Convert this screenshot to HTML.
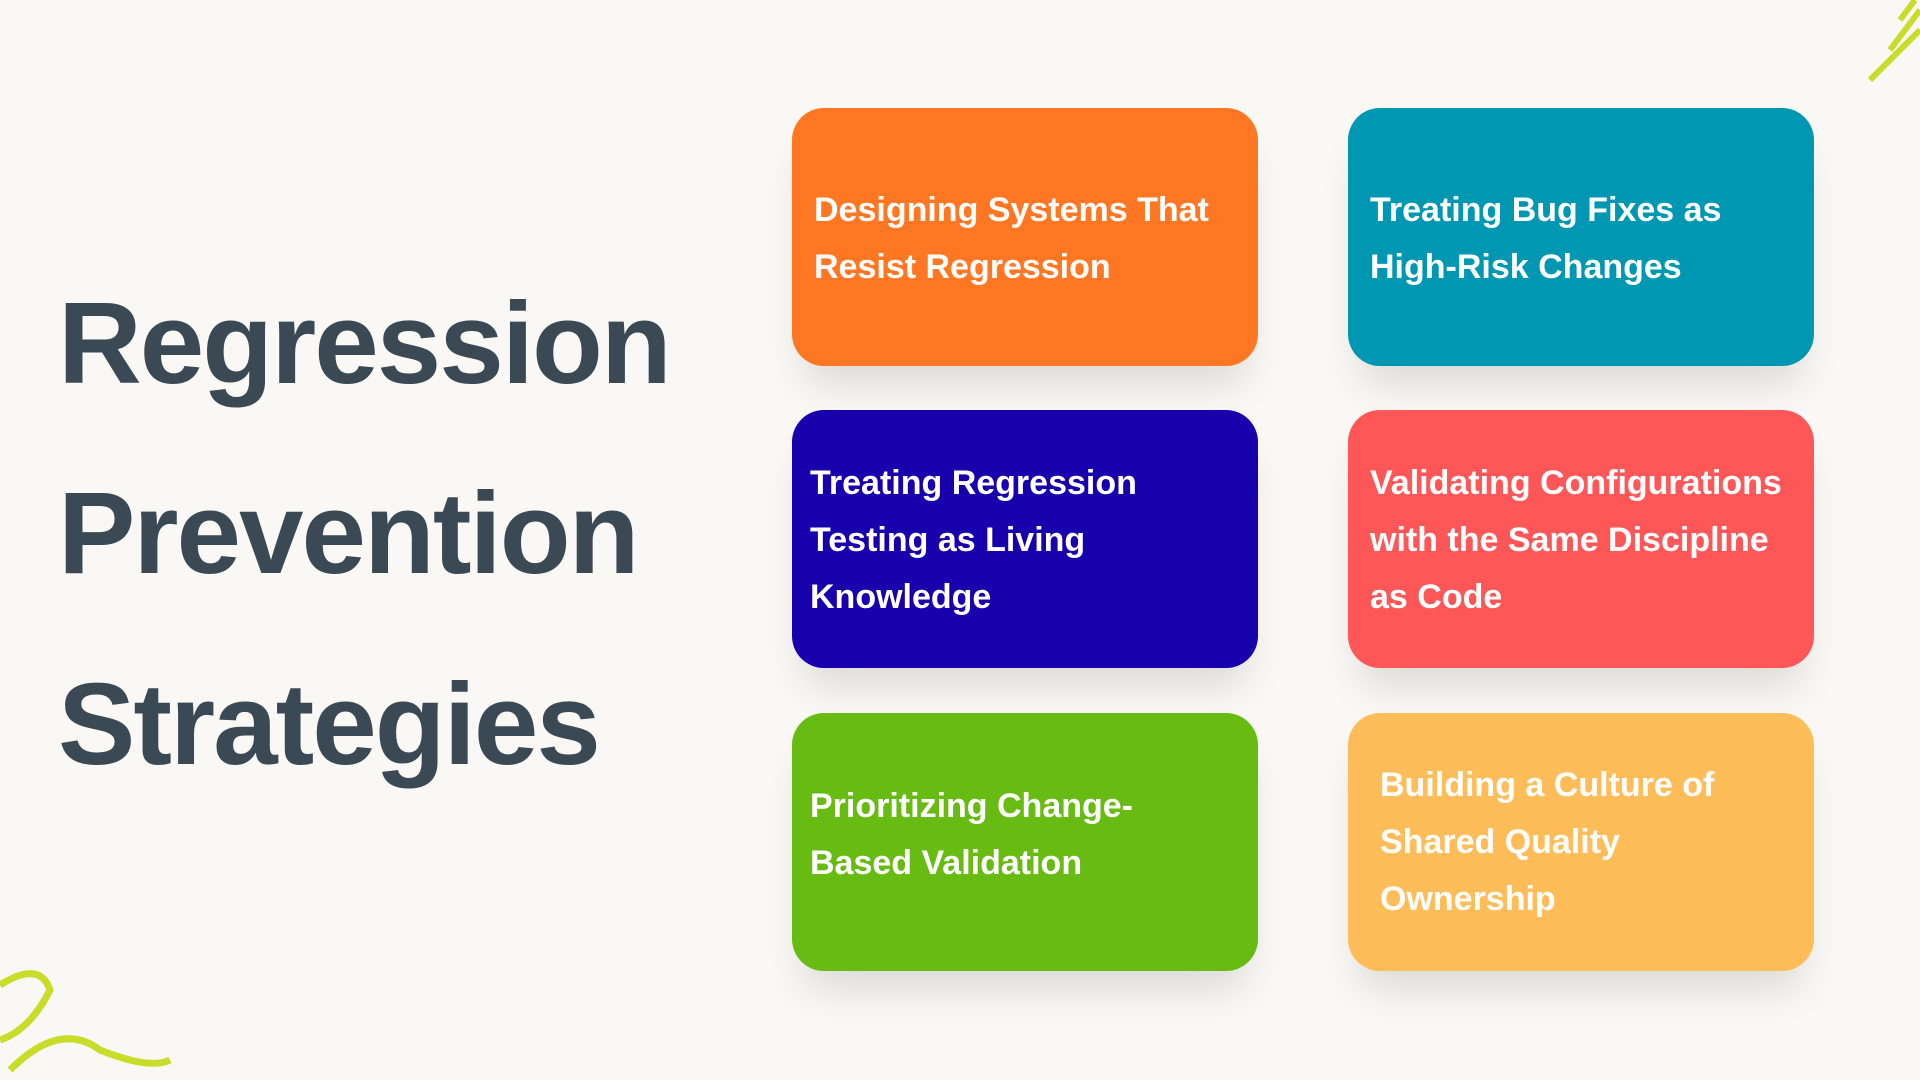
<!DOCTYPE html>
<html><head><meta charset="utf-8"><style>
html,body{margin:0;padding:0;}
body{width:1920px;height:1080px;background:#f9f8f5;position:relative;overflow:hidden;font-family:"Liberation Sans",sans-serif;}
.t{position:absolute;left:58px;color:#3b4955;font-weight:bold;font-size:116px;letter-spacing:-2px;line-height:1;}
.c{position:absolute;width:466px;height:258px;border-radius:32px;box-shadow:0 30px 40px -12px rgba(0,0,0,0.12);}
.c div{position:absolute;color:#fff;font-weight:bold;font-size:34px;line-height:57px;white-space:nowrap;}
</style></head><body>
<div class="t" style="top:285px">Regression</div>
<div class="t" style="top:475px">Prevention</div>
<div class="t" style="top:666px">Strategies</div>

<div class="c" style="left:792px;top:108px;background:#ff7722"><div style="left:22px;top:74px">Designing Systems That<br>Resist Regression</div></div>
<div class="c" style="left:1348px;top:108px;background:#0097b2"><div style="left:22px;top:74px">Treating Bug Fixes as<br>High-Risk Changes</div></div>
<div class="c" style="left:792px;top:410px;background:#1800ad"><div style="left:18px;top:45px">Treating Regression<br>Testing as Living<br>Knowledge</div></div>
<div class="c" style="left:1348px;top:410px;background:#ff5757"><div style="left:22px;top:45px">Validating Configurations<br>with the Same Discipline<br>as Code</div></div>
<div class="c" style="left:792px;top:713px;background:#68bb13"><div style="left:18px;top:65px">Prioritizing Change-<br>Based Validation</div></div>
<div class="c" style="left:1348px;top:713px;background:#ffbd59"><div style="left:32px;top:44px">Building a Culture of<br>Shared Quality<br>Ownership</div></div>

<svg style="position:absolute;left:0;top:960px" width="180" height="120"><path d="M0 25 Q40 0 50 30 Q30 70 0 80 M10 110 Q60 60 100 90 Q150 110 170 100" stroke="#c9dc2a" stroke-width="7" fill="none"/></svg>
<svg style="position:absolute;left:1860px;top:0" width="60" height="90"><path d="M10 80 L60 30 M30 50 L60 10 M40 20 L55 0" stroke="#c9dc2a" stroke-width="6" fill="none"/></svg>
</body></html>
